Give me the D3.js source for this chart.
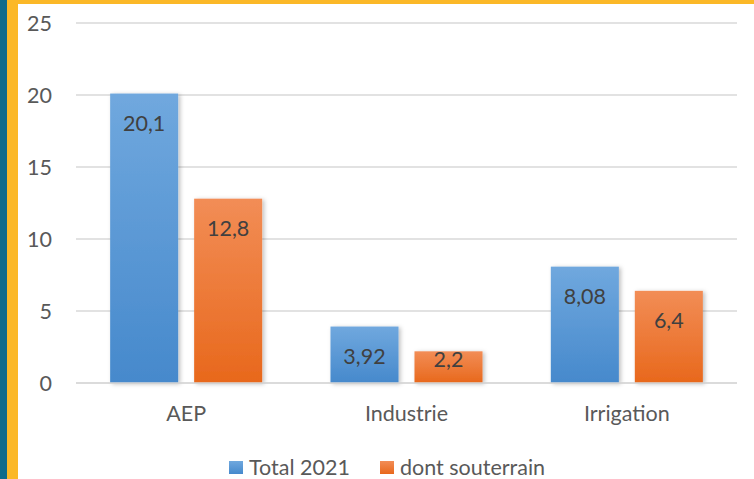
<!DOCTYPE html>
<html>
<head>
<meta charset="utf-8">
<script src="https://cdn.jsdelivr.net/npm/d3@7"></script>
<style>
  body { margin: 0; background: #fff; }
  svg { display: block; font-family: Lato, "Open Sans", sans-serif; }
</style>
</head>
<body>
<svg id="chart" width="754" height="479"></svg>
<script>
const categories = ["AEP", "Industrie", "Irrigation"];
const seriesNames = ["Total 2021", "dont souterrain"];
const total2021 = [20.1, 3.92, 8.08];
const souterrain = [12.8, 2.2, 6.4];
const yTicks = [0, 5, 10, 15, 20, 25];

const width = 754, height = 479;
const fontSize = 21.5;
const svg = d3.select("#chart");

// frame stripes
svg.append("rect").attr("x", 0).attr("y", 0).attr("width", 7).attr("height", height).attr("fill", "#0f6b8b");
svg.append("rect").attr("x", 7).attr("y", 0).attr("width", 11).attr("height", height).attr("fill", "#fbb827");
svg.append("rect").attr("x", 7).attr("y", 0).attr("width", width - 7).attr("height", 4).attr("fill", "#fbb827");

// gradients + shadow
const defs = svg.append("defs");
const grads = [["gBlue", "#70a8de", "#4689cc"], ["gOrange", "#f28d56", "#e8681c"]];
grads.forEach(([id, top, bottom]) => {
  const g = defs.append("linearGradient").attr("id", id).attr("x1", 0).attr("y1", 0).attr("x2", 0).attr("y2", 1);
  g.append("stop").attr("offset", "0%").attr("stop-color", top);
  g.append("stop").attr("offset", "100%").attr("stop-color", bottom);
});
const f = defs.append("filter").attr("id", "shadow").attr("x", "-20%").attr("y", "-20%").attr("width", "140%").attr("height", "140%");
f.append("feDropShadow").attr("dx", 2).attr("dy", 1).attr("stdDeviation", 2).attr("flood-color", "#000").attr("flood-opacity", 0.25);

const x0 = d3.scaleBand().domain(categories).range([76, 737]).paddingInner(0).paddingOuter(0);
const x1 = d3.scaleBand().domain(seriesNames).range([x0.bandwidth() * 0.155, x0.bandwidth() * 0.845]).paddingInner(0.19);
const y = d3.scaleLinear().domain([0, 25]).range([383, 23]);

// grid
svg.append("g").selectAll("line").data(yTicks).join("line")
  .attr("x1", 76).attr("x2", 737)
  .attr("y1", d => y(d)).attr("y2", d => y(d))
  .attr("stroke", "#d9d9d9").attr("stroke-width", 1.5);

// y labels
svg.append("g").selectAll("text").data(yTicks).join("text")
  .attr("x", 52).attr("y", d => y(d)).attr("dy", "0.35em")
  .attr("text-anchor", "end").attr("font-size", fontSize).attr("fill", "#595959")
  .text(d => d);

const rows = categories.map((c, i) => ({ cat: c, vals: [total2021[i], souterrain[i]] }));
const fills = ["url(#gBlue)", "url(#gOrange)"];

const groups = svg.append("g").selectAll("g").data(rows).join("g")
  .attr("transform", d => `translate(${x0(d.cat)},0)`);

groups.selectAll("rect").data(d => d.vals.map((v, j) => ({ v, s: seriesNames[j], j }))).join("rect")
  .attr("x", d => x1(d.s)).attr("y", d => y(d.v))
  .attr("width", x1.bandwidth()).attr("height", d => y(0) - y(d.v))
  .attr("fill", d => fills[d.j]).attr("filter", "url(#shadow)");

// baseline over bars
svg.append("line").attr("x1", 76).attr("x2", 737).attr("y1", y(0)).attr("y2", y(0))
  .attr("stroke", "#d9d9d9").attr("stroke-width", 1.5);

// inside-end labels, kept inside short bars
groups.selectAll("text.val").data(d => d.vals.map((v, j) => ({ v, s: seriesNames[j] }))).join("text")
  .attr("class", "val")
  .attr("x", d => x1(d.s) + x1.bandwidth() / 2)
  .attr("y", d => Math.min(y(d.v) + 30, y(0) - 24)).attr("dy", "0.35em")
  .attr("text-anchor", "middle").attr("font-size", fontSize).attr("fill", "#404040")
  .text(d => String(d.v).replace(".", ","));

// category labels
svg.append("g").selectAll("text").data(categories).join("text")
  .attr("x", d => x0(d) + x0.bandwidth() / 2).attr("y", 421)
  .attr("text-anchor", "middle").attr("font-size", fontSize).attr("fill", "#595959")
  .text(d => d);

// legend
const legendX = [229, 380];
const lg = svg.append("g").selectAll("g").data(seriesNames).join("g")
  .attr("transform", (d, i) => `translate(${legendX[i]},467)`);
lg.append("rect").attr("x", 0).attr("y", -6).attr("width", 14).attr("height", 13)
  .attr("fill", (d, i) => fills[i]);
lg.append("text").attr("x", 20).attr("y", 0).attr("dy", "0.35em")
  .attr("font-size", fontSize).attr("fill", "#595959").text(d => d);
</script>
</body>
</html>
